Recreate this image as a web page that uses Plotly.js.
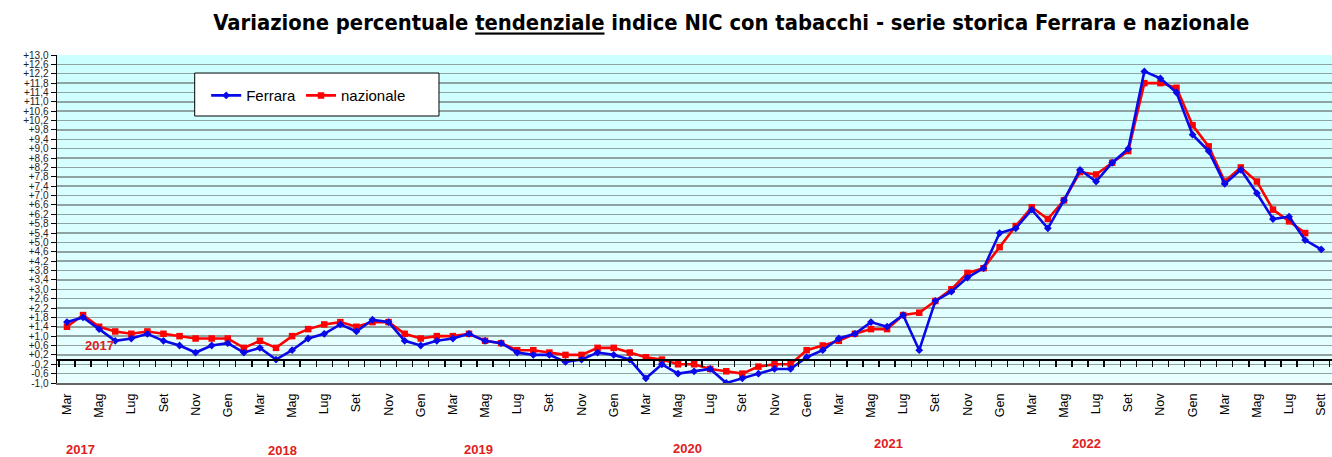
<!DOCTYPE html>
<html><head><meta charset="utf-8">
<script src="https://cdn.plot.ly/plotly-3.0.1.min.js"></script>
<style>html,body{margin:0;padding:0;background:#fff}#chart{width:1332px;height:457px}</style>
</head><body><div id="chart"></div>
<script>
// Periods (monthly, Mar 2017 - Sep 2023)
const months = [
 '2017-03','2017-04','2017-05','2017-06','2017-07','2017-08','2017-09','2017-10','2017-11','2017-12',
 '2018-01','2018-02','2018-03','2018-04','2018-05','2018-06','2018-07','2018-08','2018-09','2018-10','2018-11','2018-12',
 '2019-01','2019-02','2019-03','2019-04','2019-05','2019-06','2019-07','2019-08','2019-09','2019-10','2019-11','2019-12',
 '2020-01','2020-02','2020-03','2020-04','2020-05','2020-06','2020-07','2020-08','2020-09','2020-10','2020-11','2020-12',
 '2021-01','2021-02','2021-03','2021-04','2021-05','2021-06','2021-07','2021-08','2021-09','2021-10','2021-11','2021-12',
 '2022-01','2022-02','2022-03','2022-04','2022-05','2022-06','2022-07','2022-08','2022-09','2022-10','2022-11','2022-12',
 '2023-01','2023-02','2023-03','2023-04','2023-05','2023-06','2023-07','2023-08','2023-09'
];
// Ferrara (% yoy)
const ferrara = [
 1.6,1.8,1.3,0.8,0.9,1.1,0.8,0.6,0.3,0.6,
 0.7,0.3,0.5,0.0,0.4,0.9,1.1,1.5,1.2,1.7,1.6,0.8,
 0.6,0.8,0.9,1.1,0.8,0.7,0.3,0.2,0.2,-0.1,0.0,0.3,
 0.2,0.0,-0.8,-0.2,-0.6,-0.5,-0.4,-1.0,-0.8,-0.6,-0.4,-0.4,
 0.1,0.4,0.9,1.1,1.6,1.4,1.9,0.4,2.5,2.9,3.5,3.9,
 5.4,5.6,6.4,5.6,6.8,8.1,7.6,8.4,9.0,12.3,12.0,11.4,
 9.6,8.9,7.5,8.1,7.1,6.0,6.1,5.1,4.7
];
// nazionale (% yoy), up to Aug 2023
const nazionale = [
 1.4,1.9,1.4,1.2,1.1,1.2,1.1,1.0,0.9,0.9,
 0.9,0.5,0.8,0.5,1.0,1.3,1.5,1.6,1.4,1.6,1.6,1.1,
 0.9,1.0,1.0,1.1,0.8,0.7,0.4,0.4,0.3,0.2,0.2,0.5,
 0.5,0.3,0.1,0.0,-0.2,-0.2,-0.4,-0.5,-0.6,-0.3,-0.2,-0.2,
 0.4,0.6,0.8,1.1,1.3,1.3,1.9,2.0,2.5,3.0,3.7,3.9,
 4.8,5.7,6.5,6.0,6.8,8.0,7.9,8.4,8.9,11.8,11.8,11.6,
 10.0,9.1,7.6,8.2,7.6,6.4,5.9,5.4
];
// x tick labels (every second month)
const tickLabels = [
 'Mar','Mag','Lug','Set','Nov','Gen','Mar','Mag','Lug','Set','Nov','Gen',
 'Mar','Mag','Lug','Set','Nov','Gen','Mar','Mag','Lug','Set','Nov','Gen',
 'Mar','Mag','Lug','Set','Nov','Gen','Mar','Mag','Lug','Set','Nov','Gen',
 'Mar','Mag','Lug','Sett'
];
const yearLabels = ['2017','2018','2019','2020','2021','2022'];
const seriesNames = ['Ferrara','nazionale'];

const xIdx = months.map((m,i)=>i);
const tickVals = tickLabels.map((t,k)=>2*k);
const halfTicks = [];
for (let i=-1;i<months.length;i++) halfTicks.push(i+0.5);
const xRange = [-0.62, 78.67];

// y ticks: -1,0 ... +13,0 step 0,4 with Italian decimal comma
const yTickVals = [], yTickText = [];
for (let k=0;k<=35;k++){
  const v = Math.round((-1 + 0.4*k)*10)/10;
  yTickVals.push(v);
  yTickText.push((v>0?'+':'') + v.toFixed(1).replace('.', ','));
}

const traces = [
 {x: xIdx.slice(0, ferrara.length), y: ferrara, name: seriesNames[0], type:'scatter', mode:'lines+markers',
  xaxis:'x2', yaxis:'y',
  line:{color:'#0808e8', width:2.6}, marker:{symbol:'diamond', size:6, color:'#0808e8'}},
 {x: xIdx.slice(0, nazionale.length), y: nazionale, name: seriesNames[1], type:'scatter', mode:'lines+markers',
  xaxis:'x', yaxis:'y',
  line:{color:'#ff0000', width:2.6}, marker:{symbol:'square', size:6.5, color:'#ff0000'}}
];

// background gradient bands
const shapes = [];
const nb = 30;
for (let k=0;k<nb;k++){
  const t = k/(nb-1);
  const r = Math.round(232 - (232-204)*t);
  shapes.push({type:'rect', xref:'paper', yref:'paper', x0:0, x1:1, y0:k/nb, y1:(k+1)/nb,
    fillcolor:`rgb(${r},255,255)`, line:{width:0}, layer:'below'});
}
// legend box
shapes.push({type:'rect', xref:'paper', yref:'paper', x0:0.108, x1:0.2996, y0:0.814, y1:0.945,
  fillcolor:'#ffffff', line:{color:'#000', width:1}, layer:'above'});

const yearX = [0.87, 13.4, 25.6, 38.6, 51.1, 63.4];
const yearY = [-0.204, -0.207, -0.204, -0.201, -0.183, -0.183];
const annotations = yearLabels.map((t,k)=>({
  text:'<b>'+t+'</b>', x:yearX[k], y:yearY[k], xref:'x', yref:'paper', showarrow:false,
  font:{family:'Liberation Sans, Arial, sans-serif', size:13, color:'#e02020'}, xanchor:'center', yanchor:'middle'
}));
annotations.push({text:'<b>'+yearLabels[0]+'</b>', x:2.05, y:0.58, xref:'x', yref:'y', showarrow:false,
  font:{family:'Liberation Sans, Arial, sans-serif', size:13, color:'#e02020'}, xanchor:'center', yanchor:'middle'});

const layout = {
  width:1332, height:457,
  margin:{l:57, r:0, t:55, b:74, pad:0},
  paper_bgcolor:'#ffffff', plot_bgcolor:'#d8ffff',
  font:{family:'Liberation Sans, Arial, sans-serif', color:'#000'},
  title:{text:'<b>Variazione percentuale <u>tendenziale</u> indice NIC con tabacchi - serie storica Ferrara e nazionale</b>',
    font:{family:'DejaVu Sans Condensed, Liberation Sans Narrow, sans-serif', size:21.8, color:'#000'},
    x:0.549, xanchor:'center', xref:'container', y:0.95, yanchor:'middle', yref:'container'},
  showlegend:true,
  legend:{orientation:'h', x:0.117, y:0.876, xanchor:'left', yanchor:'middle',
    bgcolor:'rgba(0,0,0,0)', borderwidth:0, font:{size:15, color:'#000'}, itemwidth:30},
  xaxis:{range:xRange, tickmode:'array', tickvals:tickVals, ticktext:tickLabels, tickangle:-90,
    tickfont:{size:12.5, color:'#000'}, showgrid:false, zeroline:false, showline:true,
    linecolor:'#666', linewidth:1.5, ticks:'', ticklabelstandoff:4, fixedrange:true},
  xaxis2:{range:xRange, overlaying:'x', anchor:'free', position:1/14, side:'bottom',
    showline:true, linecolor:'#000', linewidth:2, ticks:'outside', ticklen:6, tickwidth:1.3, tickcolor:'#000',
    tickmode:'array', tickvals:halfTicks, showticklabels:false, showgrid:false, zeroline:false, fixedrange:true},
  yaxis:{range:[-1,13], tickmode:'array', tickvals:yTickVals, ticktext:yTickText,
    showgrid:true, gridcolor:'#8fa3a3', gridwidth:1.5,
    zeroline:false, showline:true, linecolor:'#000', linewidth:1.5, ticks:'outside', ticklen:5, tickcolor:'#000',
    tickfont:{size:10, color:'#222'}, fixedrange:true},
  shapes:shapes,
  annotations:annotations
};
Plotly.newPlot('chart', traces, layout, {displayModeBar:false, staticPlot:true});
</script></body></html>
